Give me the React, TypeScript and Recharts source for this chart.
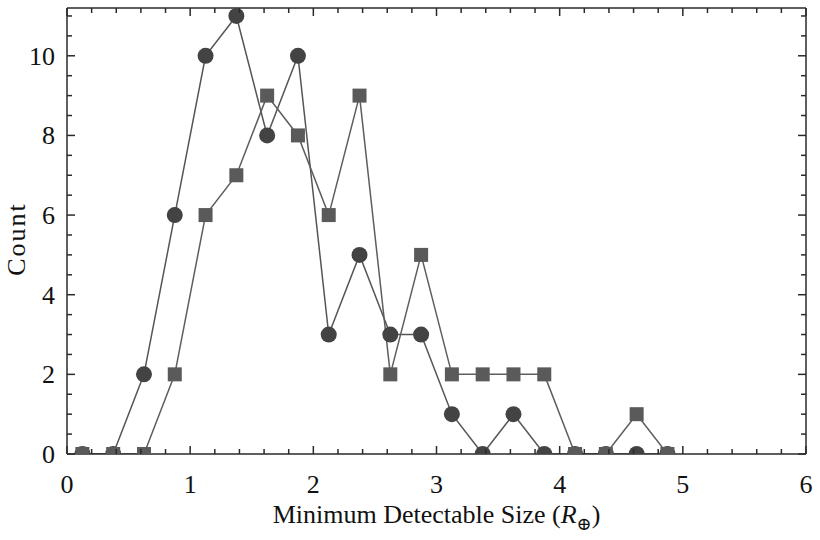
import React from 'react';
import { LineChart, Line, XAxis, YAxis, Label } from 'recharts';

// bin centres (R_earth) and counts per bin
const bins = [0.125, 0.375, 0.625, 0.875, 1.125, 1.375, 1.625, 1.875, 2.125, 2.375, 2.625, 2.875, 3.125, 3.375, 3.625, 3.875, 4.125, 4.375, 4.625, 4.875];
const circleCounts = [0, 0, 2, 6, 10, 11, 8, 10, 3, 5, 3, 3, 1, 0, 1, 0, 0, 0, 0, 0];
const squareCounts = [0, 0, 0, 2, 6, 7, 9, 8, 6, 9, 2, 5, 2, 2, 2, 2, 0, 0, 1, 0];

const xMajor = [0, 1, 2, 3, 4, 5, 6];
const yMajor = [0, 2, 4, 6, 8, 10];
const xTicks = Array.from({ length: 31 }, (_, i) => Math.round(i * 2) / 10);
const yTicks = Array.from({ length: 23 }, (_, i) => i * 0.5);

const data = bins.map((b, i) => ({ x: b, circles: circleCounts[i], squares: squareCounts[i] }));

const FONT = '"Liberation Serif", "DejaVu Serif", serif';
const FRAME = '#2a2a2a';
const MAJOR = 8;
const MINOR = 5;
const FS = 26;

const isMajor = (v: number, majors: number[]) => majors.some((m) => Math.abs(m - v) < 1e-6);

const BottomTick = (props: any) => {
  const { x, y, payload } = props;
  const major = isMajor(payload.value, xMajor);
  return (
    <g>
      <line x1={x} x2={x} y1={y} y2={y - (major ? MAJOR : MINOR)} stroke={FRAME} strokeWidth={1.5} />
      {major && (
        <text x={x} y={y + 39} textAnchor="middle" fontFamily={FONT} fontSize={FS} fill="#111">
          {payload.value}
        </text>
      )}
    </g>
  );
};

const TopTick = (props: any) => {
  const { x, y, payload } = props;
  const major = isMajor(payload.value, xMajor);
  return <line x1={x} x2={x} y1={y} y2={y + (major ? MAJOR : MINOR)} stroke={FRAME} strokeWidth={1.5} />;
};

const LeftTick = (props: any) => {
  const { x, y, payload } = props;
  const major = isMajor(payload.value, yMajor);
  return (
    <g>
      <line x1={x} x2={x + (major ? MAJOR : MINOR)} y1={y} y2={y} stroke={FRAME} strokeWidth={1.5} />
      {major && (
        <text x={x - 12} y={y + 9} textAnchor="end" fontFamily={FONT} fontSize={FS} fill="#111">
          {payload.value}
        </text>
      )}
    </g>
  );
};

const RightTick = (props: any) => {
  const { x, y, payload } = props;
  const major = isMajor(payload.value, yMajor);
  return <line x1={x} x2={x - (major ? MAJOR : MINOR)} y1={y} y2={y} stroke={FRAME} strokeWidth={1.5} />;
};

const CircleDot = (props: any) => {
  const { cx, cy, index } = props;
  return <circle key={`c${index}`} cx={cx} cy={cy} r={8} fill="#434343" />;
};

const SquareDot = (props: any) => {
  const { cx, cy, index } = props;
  return <rect key={`s${index}`} x={cx - 7} y={cy - 7} width={14} height={14} fill="#5a5a5a" />;
};

export default function App() {
  return (
    <div style={{ position: 'absolute', left: 0, top: 0, width: 820, height: 540, background: '#fff' }}>
      <LineChart width={820} height={540} data={data} margin={{ top: 7, right: 13, left: 0, bottom: 0 }}>
        <XAxis
          xAxisId="bottom"
          dataKey="x"
          type="number"
          domain={[0, 6]}
          ticks={xTicks}
          interval={0}
          height={86}
          tickSize={0}
          tickMargin={0}
          tickLine={false}
          axisLine={{ stroke: FRAME, strokeWidth: 1.5 }}
          tick={<BottomTick />}
        >
          <Label
            content={(p: any) => {
              const vb = p.viewBox;
              const cx = vb.x + vb.width / 2;
              return (
                <text x={cx} y={523} textAnchor="middle" fontFamily={FONT} fontSize={FS} fill="#111">
                  Minimum Detectable Size (<tspan fontStyle="italic">R</tspan>
                  <tspan dy={7} fontSize={18}>⊕</tspan>
                  <tspan dy={-7}>)</tspan>
                </text>
              );
            }}
          />
        </XAxis>
        <XAxis
          xAxisId="top"
          orientation="top"
          dataKey="x"
          type="number"
          domain={[0, 6]}
          ticks={xTicks}
          interval={0}
          height={1}
          tickSize={0}
          tickMargin={0}
          tickLine={false}
          axisLine={{ stroke: FRAME, strokeWidth: 1.5 }}
          tick={<TopTick />}
        />
        <YAxis
          yAxisId="left"
          type="number"
          domain={[0, 11.2]}
          ticks={yTicks}
          interval={0}
          width={67}
          tickSize={0}
          tickMargin={0}
          tickLine={false}
          axisLine={{ stroke: FRAME, strokeWidth: 1.5 }}
          tick={<LeftTick />}
          allowDataOverflow
        >
          <Label
            content={(p: any) => {
              const vb = p.viewBox;
              const cy = vb.y + vb.height / 2 + 8;
              return (
                <text
                  x={16}
                  y={cy}
                  transform={`rotate(-90 16 ${cy})`}
                  textAnchor="middle"
                  dominantBaseline="central"
                  fontFamily={FONT}
                  fontSize={FS}
                  letterSpacing={2}
                  fill="#111"
                >
                  Count
                </text>
              );
            }}
          />
        </YAxis>
        <YAxis
          yAxisId="right"
          orientation="right"
          type="number"
          domain={[0, 11.2]}
          ticks={yTicks}
          interval={0}
          width={1}
          tickSize={0}
          tickMargin={0}
          tickLine={false}
          axisLine={{ stroke: FRAME, strokeWidth: 1.5 }}
          tick={<RightTick />}
          allowDataOverflow
        />
        <Line
          xAxisId="bottom"
          yAxisId="left"
          dataKey="circles"
          type="linear"
          stroke="#555"
          strokeWidth={1.5}
          dot={<CircleDot />}
          activeDot={false}
          isAnimationActive={false}
        />
        <Line
          xAxisId="bottom"
          yAxisId="left"
          dataKey="squares"
          type="linear"
          stroke="#5e5e5e"
          strokeWidth={1.5}
          dot={<SquareDot />}
          activeDot={false}
          isAnimationActive={false}
        />
      </LineChart>
    </div>
  );
}
